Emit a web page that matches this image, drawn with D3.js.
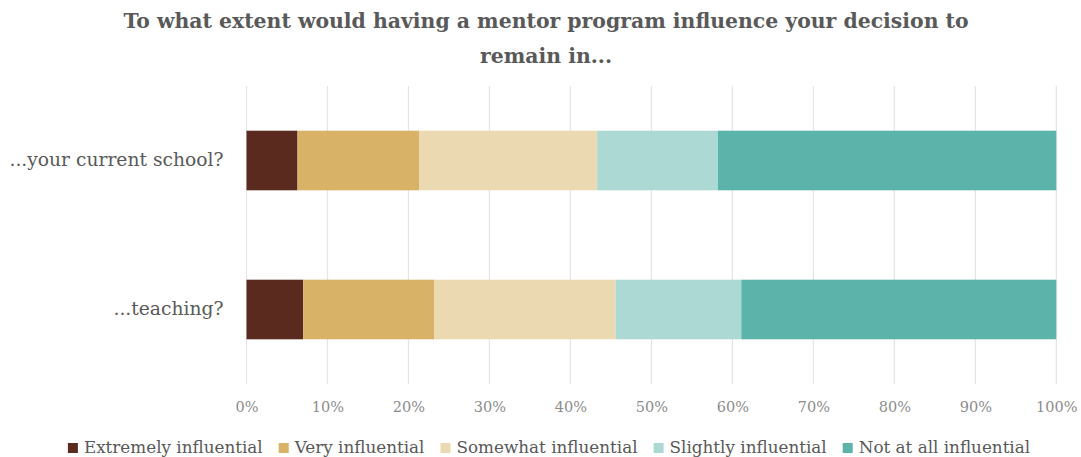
<!DOCTYPE html>
<html>
<head>
<meta charset="utf-8">
<script src="https://cdn.jsdelivr.net/npm/d3@7"></script>
<style>
  html, body { margin: 0; padding: 0; background: #fff; }
  svg { display: block; }
</style>
</head>
<body>
<div id="chart"></div>
<script>
const categories = ["...your current school?", "...teaching?"];
const seriesNames = ["Extremely influential", "Very influential", "Somewhat influential", "Slightly influential", "Not at all influential"];
const seriesColors = ["#5B2A1F", "#D8B266", "#EAD9B1", "#ADD9D5", "#5BB3AA"];
const extremelyValues = [6.3, 7.0];
const veryValues = [15.0, 16.2];
const somewhatValues = [22.0, 22.4];
const slightlyValues = [14.9, 15.5];
const notAtAllValues = [41.8, 38.9];
const xTicks = [0, 10, 20, 30, 40, 50, 60, 70, 80, 90, 100];
const titleLines = ["To what extent would having a mentor program influence your decision to", "remain in..."];

const FONT = "'DejaVu Serif', serif";
const W = 1081, H = 457;
const svg = d3.select("#chart").append("svg").attr("width", W).attr("height", H);

const x = d3.scaleLinear().domain([0, 100]).range([246.5, 1056.3]);
const y = d3.scaleBand().domain(categories).range([86, 384]).paddingInner(0.6).paddingOuter(0.3);

// gridlines
svg.append("g").selectAll("line").data(xTicks).join("line")
  .attr("x1", d => x(d)).attr("x2", d => x(d))
  .attr("y1", 86).attr("y2", 384)
  .attr("stroke", "#E4E4E4").attr("stroke-width", 1.2);

// data table
const seriesValues = [extremelyValues, veryValues, somewhatValues, slightlyValues, notAtAllValues];
const rows = categories.map((c, i) => {
  const r = { cat: c };
  seriesNames.forEach((s, j) => r[s] = seriesValues[j][i]);
  return r;
});
const stacked = d3.stack().keys(seriesNames)(rows);

svg.append("g").selectAll("g").data(stacked).join("g")
  .attr("fill", (d, i) => seriesColors[i])
  .selectAll("rect").data(d => d).join("rect")
  .attr("x", d => x(d[0]))
  .attr("width", d => x(d[1]) - x(d[0]))
  .attr("y", d => y(d.data.cat))
  .attr("height", y.bandwidth());

// y axis labels
const yAxis = d3.axisLeft(y).tickSize(0).tickPadding(23);
const yg = svg.append("g").attr("transform", `translate(${x(0)},0)`).call(yAxis);
yg.select(".domain").remove();
yg.selectAll("text")
  .style("font-family", FONT)
  .style("font-size", "18.7px")
  .attr("fill", "#595959");

// x axis labels
const xAxis = d3.axisBottom(x).tickValues(xTicks).tickFormat(d => d + "%").tickSize(0).tickPadding(0);
const xg = svg.append("g").attr("transform", `translate(0,402)`).call(xAxis);
xg.select(".domain").remove();
xg.selectAll("text")
  .style("font-family", FONT)
  .style("font-size", "14.5px")
  .attr("fill", "#8C8C8C");

// title
svg.append("g").selectAll("text").data(titleLines).join("text")
  .attr("x", 546)
  .attr("y", (d, i) => 28 + i * 35)
  .attr("text-anchor", "middle")
  .style("font-family", FONT)
  .style("font-size", "20.4px")
  .style("font-weight", "bold")
  .attr("fill", "#595959")
  .text(d => d);

// legend
const legend = svg.append("g");
const items = legend.selectAll("g").data(seriesNames).join("g");
items.append("rect")
  .attr("width", 10).attr("height", 10)
  .attr("y", 443)
  .attr("fill", (d, i) => seriesColors[i]);
items.append("text")
  .attr("x", 16)
  .attr("y", 453)
  .style("font-family", FONT)
  .style("font-size", "16.8px")
  .attr("fill", "#595959")
  .text(d => d);
let cx = 0;
const gap = 16;
items.each(function() {
  const g = d3.select(this);
  const w = 16 + g.select("text").node().getComputedTextLength();
  g.attr("transform", `translate(${cx},0)`);
  cx += w + gap;
});
const total = cx - gap;
legend.attr("transform", `translate(${549 - total / 2},0)`);
</script>
</body>
</html>
